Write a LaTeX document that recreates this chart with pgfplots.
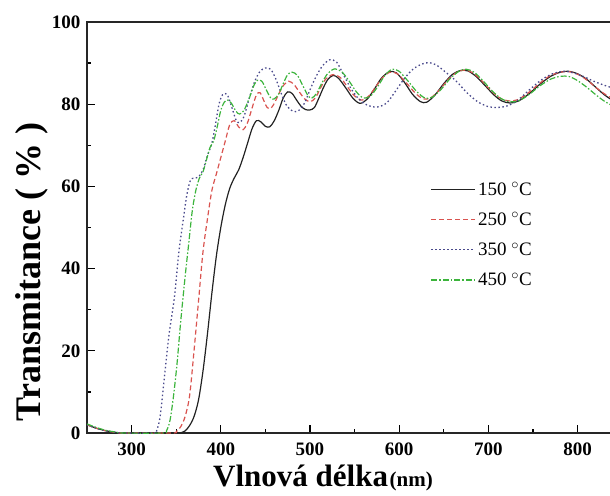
\documentclass[border=0pt]{standalone}
\usepackage{pgfplots}
\pgfplotsset{compat=1.18}
\usepackage{fontspec}
\setmainfont{Liberation Serif}
\definecolor{cblack}{HTML}{222222}
\definecolor{cred}{HTML}{D9534F}
\definecolor{cblue}{HTML}{4A4A8C}
\definecolor{cgreen}{HTML}{3CB43C}
\begin{document}
\begin{tikzpicture}
\begin{axis}[
  scale only axis, width=528pt, height=411pt,
  xmin=250, xmax=842, ymin=0, ymax=100,
  xtick={300,400,500,600,700,800}, ytick={0,20,40,60,80,100},
  minor x tick num=1, minor y tick num=1,
  tick align=inside, xtick pos=bottom, ytick pos=left,
  major tick length=8pt, minor tick length=4pt,
  every tick/.style={line width=1.3pt, black},
  axis line style={line width=1.6pt, black!85},
  /pgf/number format/assume math mode=true,
  tick label style={font=\fontsize{19}{19}\selectfont\bfseries},
  xticklabel style={yshift=-6pt},
  yticklabel style={xshift=-3pt},
  xlabel={{\fontsize{31}{31}\selectfont\bfseries Vlnová délka}\,{\fontsize{21}{21}\selectfont\bfseries (nm)}},
  xlabel style={at={(axis description cs:0.447,-0.130)}, anchor=base, inner sep=0pt},
  ylabel={\fontsize{36}{36}\selectfont\bfseries Transmitance ( \% )},
  ylabel style={at={(axis description cs:-0.089,0.392)}, anchor=base, rotate=0},
  legend style={draw=none, fill=none, at={(rel axis cs:0.645,0.62)}, anchor=north west,
    font=\fontsize{19}{19}\selectfont, row sep=12pt, cells={anchor=west}},
  legend image code/.code={\draw[#1] (0pt,0pt) -- (44pt,0pt);},
  clip=true,
]
\coordinate (O) at (rel axis cs:0,0);
% 150 C
\addplot[cblack, line width=1.2pt, smooth, tension=0.5] coordinates {
(250,2.0)(260,1.2)(270,0.6)(280,0.2)(290,0)(300,0)(340,0)(355,0)(360,0.5)(365,1.8)(370,4)(375,8)(380,15)(385,24)(390,34)(395,43)(400,50)(405,55.5)(410,59.5)(415,62)(420,64)(425,67)(430,70.5)(435,74)(440,76)(445,75.7)(450,74.6)(455,74.5)(460,76)(465,78.5)(470,81.5)(475,83)(480,82.6)(485,81)(490,79.5)(495,78.7)(500,78.6)(505,79.2)(510,81.5)(515,84)(520,86)(526,87)(532,86.3)(540,84)(548,81.5)(556,80.2)(564,81.2)(572,83.6)(580,86.3)(589,87.9)(597,87.6)(606,85.3)(615,82.4)(624,80.6)(631,80.5)(640,82.2)(650,85)(660,87.3)(669,88.2)(677,88.1)(686,86.8)(696,84.6)(706,82.3)(715,80.8)(724,80.3)(734,80.8)(746,82.6)(758,84.9)(770,86.8)(781,87.8)(790,88)(800,87.4)(810,86.1)(820,84.2)(830,82.3)(842,80.5)
};
\addlegendentry{150 $^{\circ}$C}
% 250 C
\addplot[cred, line width=1.2pt, dash pattern=on 5pt off 3pt, smooth, tension=0.5] coordinates {
(250,2.0)(260,1.2)(270,0.6)(280,0.2)(290,0)(345,0)(350,0.3)(355,1.5)(360,4)(365,9)(370,20)(375,32)(380,44)(385,52)(390,59)(395,63)(400,67)(405,71)(410,75)(415,76)(420,74.5)(425,73.8)(430,75.5)(435,79)(440,82.3)(444,82.8)(448,81)(452,79.2)(456,79)(460,80.2)(465,82.5)(470,84.5)(476,85.6)(482,84.8)(488,83)(494,81.3)(500,80.6)(506,81.5)(512,84)(518,86.2)(526,87.2)(534,86.5)(542,84.2)(550,82)(558,81)(566,82)(574,84.3)(582,86.6)(590,87.8)(598,87.4)(608,85.2)(618,82.7)(627,81.3)(635,81.5)(645,83.4)(655,86)(665,87.8)(674,88.3)(683,87.6)(693,85.6)(703,83.3)(713,81.5)(723,80.8)(733,81.1)(745,82.8)(757,85)(769,86.9)(781,87.8)(791,87.9)(801,87.2)(811,85.8)(821,84)(831,82.4)(842,81)
};
\addlegendentry{250 $^{\circ}$C}
% 350 C
\addplot[cblue, line width=1.3pt, dash pattern=on 1.5pt off 2.5pt, smooth, tension=0.5] coordinates {
(250,2.0)(260,1.2)(270,0.6)(280,0.2)(290,0)(325,0)(328,0.5)(332,4)(337,14)(342,24)(348,33)(353,44)(358,52)(362,58)(366,61.5)(370,62)(375,62.3)(380,64)(385,67.5)(390,70.5)(394,75)(398,80)(402,82.3)(407,82.4)(412,79.5)(417,76.2)(421,75.5)(426,77)(432,81.5)(438,85.5)(444,88)(450,88.8)(456,88.5)(462,86)(468,82.5)(474,79.6)(481,78.3)(487,78.4)(494,80.3)(500,83.5)(507,86.8)(514,89.3)(522,90.8)(530,90.2)(538,87)(546,83.8)(555,81.2)(564,79.8)(575,79.3)(586,80.3)(596,83.2)(606,86.3)(616,88.6)(626,89.8)(634,90.1)(642,89.5)(652,87.8)(664,85.6)(676,82.8)(688,80.6)(700,79.4)(710,79.2)(720,79.5)(732,80.8)(746,83.5)(760,86)(772,87.4)(784,88)(794,87.7)(806,86.8)(818,85.6)(830,84.6)(842,83.8)
};
\addlegendentry{350 $^{\circ}$C}
% 450 C
\addplot[cgreen, line width=1.2pt, dash pattern=on 6pt off 2pt on 1.5pt off 2pt, smooth, tension=0.5] coordinates {
(250,2.2)(260,1.4)(270,0.7)(280,0.3)(290,0)(335,0)(339,0.5)(343,3)(347,9)(351,17)(355,27)(360,38)(364,46)(368,54)(372,59)(376,62)(380,63.5)(384,66.5)(388,69.5)(392,71)(396,74.5)(400,78.5)(404,80.5)(408,81)(412,80.2)(417,78.3)(421,77.6)(426,78.5)(432,81.5)(437,84.5)(441,85.8)(446,85.6)(451,83.5)(456,81.5)(460,81.3)(465,82.5)(470,85)(475,87.2)(480,87.8)(486,87)(492,84.5)(498,82)(502,81.5)(507,82.5)(513,85)(520,87.5)(528,88.6)(536,87.8)(544,85.6)(552,83)(560,81.5)(568,82)(576,84.3)(584,87)(592,88.5)(600,88)(610,85.6)(620,83)(629,81.5)(637,81.7)(647,83.6)(657,86.2)(667,88)(675,88.5)(684,87.8)(694,85.7)(704,83.3)(714,81.4)(724,80.6)(734,80.8)(746,82.4)(758,84.5)(770,86.1)(781,86.8)(791,86.7)(801,85.6)(811,84)(821,82.2)(831,80.6)(842,79.3)
};
\addlegendentry{450 $^{\circ}$C}
\end{axis}
\pgfresetboundingbox
\path (O) ++(-87pt,-62pt) rectangle ++(610pt,495pt);
\end{tikzpicture}
\end{document}
